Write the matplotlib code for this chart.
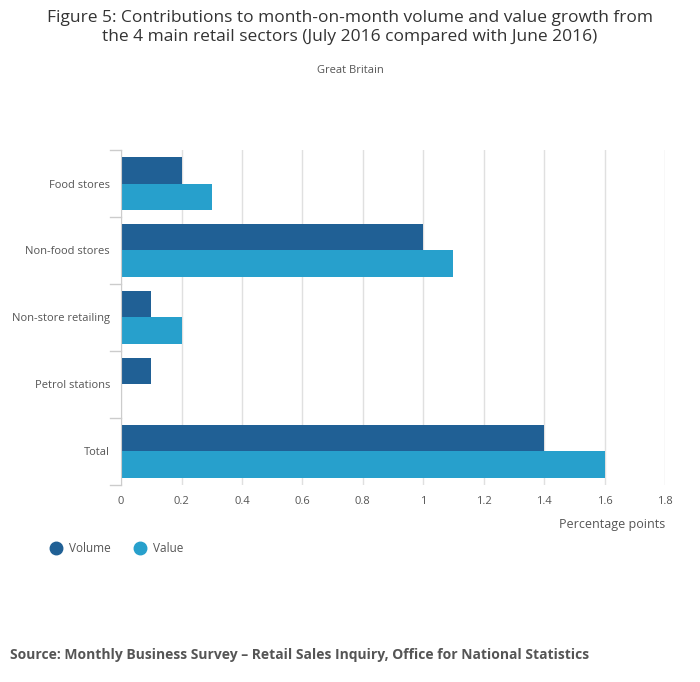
import matplotlib
matplotlib.use("Agg")
import matplotlib.pyplot as plt
import numpy as np

plt.rcParams['font.family'] = ['Open Sans', 'DejaVu Sans']

sectors = ["Food stores", "Non-food stores", "Non-store retailing", "Petrol stations", "Total"]
volume = [0.2, 1.0, 0.1, 0.1, 1.4]
value = [0.3, 1.1, 0.2, 0.0, 1.6]

fig = plt.figure(figsize=(7, 6.82), dpi=100)
ax = fig.add_axes([0.173, 0.289, 0.777, 0.491])

y = np.arange(len(sectors))
h = 0.4
ax.barh(y - h / 2, volume, height=h, color="#206095", label="Volume")
ax.barh(y + h / 2, value, height=h, color="#27a0cc", label="Value")
ax.set_ylim(len(sectors) - 0.5, -0.5)
ax.set_xlim(0, 1.8)
ax.set_yticks(y)
ax.set_yticklabels(sectors)
ax.set_xticks(np.arange(0, 1.81, 0.2))
ax.set_xticklabels(["0", "0.2", "0.4", "0.6", "0.8", "1", "1.2", "1.4", "1.6", "1.8"])
ax.grid(axis="x", color="#e0e0e0", linewidth=1)
ax.set_axisbelow(True)
for s in ["top", "right", "bottom"]:
    ax.spines[s].set_visible(False)
ax.spines["left"].set_color("#cccccc")
ax.tick_params(axis="both", colors="#555555", labelsize=8, length=0, pad=8)
for b in np.arange(-0.5, len(sectors), 1):
    ax.plot([-0.02, 0], [b, b], color="#cccccc", lw=1, clip_on=False, transform=ax.get_yaxis_transform())
ax.set_xlabel("Percentage points", fontsize=9, color="#555555", loc="right", labelpad=8)

fig.text(0.5, 0.985, "Figure 5: Contributions to month-on-month volume and value growth from\nthe 4 main retail sectors (July 2016 compared with June 2016)",
         ha="center", va="top", fontsize=12.5, color="#333333", linespacing=1.2)
fig.text(0.5, 0.905, "Great Britain", ha="center", va="top", fontsize=8, color="#555555")

ax.legend(loc="upper left", bbox_to_anchor=(-0.125, -0.13), ncol=2, frameon=False,
          fontsize=8.5, labelcolor="#555555", handlelength=0.9, handleheight=0.9,
          columnspacing=1.5, handletextpad=0.6)
leg = ax.get_legend()
for hnd in leg.legend_handles:
    hnd.set_visible(False)
for i, c in enumerate(["#206095", "#27a0cc"]):
    pass
ax.get_legend().remove()
fig.lines.append(plt.Line2D([0.08], [0.196], marker="o", color="#206095", markersize=9, transform=fig.transFigure))
fig.text(0.098, 0.196, "Volume", va="center", fontsize=8.5, color="#555555")
fig.lines.append(plt.Line2D([0.2], [0.196], marker="o", color="#27a0cc", markersize=9, transform=fig.transFigure))
fig.text(0.218, 0.196, "Value", va="center", fontsize=8.5, color="#555555")

fig.text(0.014, 0.04, "Source: Monthly Business Survey \u2013 Retail Sales Inquiry, Office for National Statistics",
         fontsize=10, fontweight="bold", color="#555555", va="center")

fig.savefig("out.png", dpi=100)
